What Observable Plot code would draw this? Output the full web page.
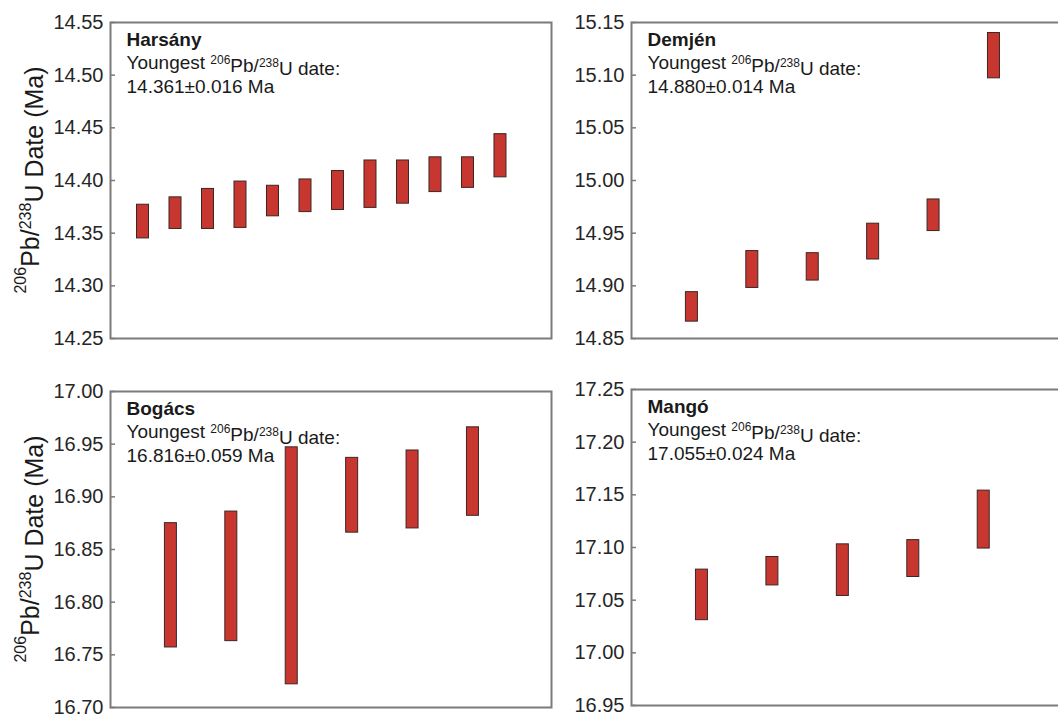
<!DOCTYPE html>
<html>
<head>
<meta charset="utf-8">
<script src="https://cdn.jsdelivr.net/npm/d3@7"></script>
<script src="https://cdn.jsdelivr.net/npm/@observablehq/plot@0.6"></script>
<style>
  html, body { margin: 0; padding: 0; background: #fff; }
  #wrap { position: relative; width: 1058px; height: 716px; overflow: hidden; background: #fff; }
  #wrap > div { position: absolute; width: 600px; }
  #wrap svg { overflow: visible; max-width: none !important; display: block; }
</style>
</head>
<body>
<div id="wrap">
  <div id="p1" style="left:0px;top:0px"></div>
  <div id="p2" style="left:521px;top:0px"></div>
  <div id="p3" style="left:0px;top:350px"></div>
  <div id="p4" style="left:521px;top:350px"></div>
</div>
<script>
// ---- data ----
const harsanyLow  = [14.345, 14.354, 14.354, 14.355, 14.366, 14.370, 14.372, 14.374, 14.378, 14.389, 14.393, 14.403];
const harsanyHigh = [14.377, 14.384, 14.392, 14.399, 14.395, 14.401, 14.409, 14.419, 14.419, 14.422, 14.422, 14.444];

const demjenLow  = [14.866, 14.898, 14.905, 14.925, 14.952, 15.097];
const demjenHigh = [14.894, 14.933, 14.931, 14.959, 14.982, 15.140];

const bogacsLow  = [16.757, 16.763, 16.722, 16.866, 16.870, 16.882];
const bogacsHigh = [16.875, 16.886, 16.947, 16.937, 16.944, 16.966];

const mangoLow  = [17.031, 17.064, 17.054, 17.072, 17.099];
const mangoHigh = [17.079, 17.091, 17.103, 17.107, 17.154];

const panelNames  = ["Harsány", "Demjén", "Bogács", "Mangó"];
const panelDates  = ["14.361±0.016 Ma", "14.880±0.014 Ma", "16.816±0.059 Ma", "17.055±0.024 Ma"];
const yDomains    = [[14.25, 14.55], [14.85, 15.15], [16.70, 17.00], [16.95, 17.25]];
const xDomains    = [[0, 13.57], [0, 7.3], [0, 7.3], [0, 6.26]];

const FONT = "'Liberation Sans', Arial, Helvetica, sans-serif";
const BAR_FILL = "#c8372f";
const BAR_STROKE = "#3a2626";
const FRAME = "#7b7b7b";

function toRows(lo, hi) {
  return lo.map((l, k) => ({i: k + 1, lo: l, hi: hi[k]}));
}

const panels = [
  {el: "#p1", rows: toRows(harsanyLow, harsanyHigh), mt: 22, mb: 12, ylabel: true},
  {el: "#p2", rows: toRows(demjenLow, demjenHigh), mt: 22, mb: 12, ylabel: false},
  {el: "#p3", rows: toRows(bogacsLow, bogacsHigh), mt: 41, mb: 8, ylabel: true},
  {el: "#p4", rows: toRows(mangoLow, mangoHigh), mt: 39, mb: 10, ylabel: false}
];

panels.forEach((p, k) => {
  const innerH = 316;
  const chart = Plot.plot({
    width: 110 + 441 + 10,
    height: p.mt + innerH + p.mb,
    marginLeft: 110,
    marginRight: 10,
    marginTop: p.mt,
    marginBottom: p.mb,
    style: {fontFamily: FONT, fontSize: "20px", background: "transparent", overflow: "visible", maxWidth: "none"},
    x: {domain: xDomains[k], axis: null},
    y: {domain: yDomains[k], ticks: 6, tickFormat: ".2f"},
    marks: [
      Plot.axisY({tickSize: -5, tickPadding: 12, stroke: FRAME, fill: "#262626", label: null, fontSize: 20, strokeWidth: 1.5}),
      Plot.rect(p.rows, {x1: "i", x2: "i", y1: "lo", y2: "hi", insetLeft: -6, insetRight: -6, fill: BAR_FILL, stroke: BAR_STROKE, strokeWidth: 1}),
      Plot.frame({stroke: FRAME, strokeWidth: 2}),
      Plot.text([panelNames[k]], {text: d => d, frameAnchor: "top-left", dx: 16, dy: 23, lineAnchor: "bottom", textAnchor: "start", fontWeight: "bold", fontSize: 19, fill: "#1a1a1a"}),
      Plot.text(["Youngest 206Pb/238U date:"], {text: d => d, frameAnchor: "top-left", dx: 16, dy: 46.5, lineAnchor: "bottom", textAnchor: "start", fontSize: 19, fill: "#1a1a1a", className: "youngest"}),
      Plot.text([panelDates[k]], {text: d => d, frameAnchor: "top-left", dx: 16, dy: 70, lineAnchor: "bottom", textAnchor: "start", fontSize: 19, fill: "#1a1a1a"})
    ]
  });

  const svg = d3.select(chart);
  // superscripts in annotation line
  svg.selectAll(".youngest text").each(function () {
    const t = d3.select(this);
    t.text(null);
    t.append("tspan").text("Youngest ");
    t.append("tspan").attr("dy", "-0.45em").attr("font-size", "12px").text("206");
    t.append("tspan").attr("dy", "0.45em").text("Pb/");
    t.append("tspan").attr("dy", "-0.45em").attr("font-size", "12px").text("238");
    t.append("tspan").attr("dy", "0.45em").text("U date:");
  });

  if (p.ylabel) {
    const cy = p.mt + innerH / 2;
    const lab = svg.append("text")
      .attr("transform", `translate(34,${cy}) rotate(-90)`)
      .attr("text-anchor", "middle")
      .attr("font-family", FONT)
      .attr("font-size", "25px")
      .attr("fill", "#1a1a1a");
    lab.append("tspan").attr("font-size", "16px").attr("dy", "-0.5em").text("206");
    lab.append("tspan").attr("dy", "0.5em").attr("font-size", "25px").text("Pb/");
    lab.append("tspan").attr("font-size", "16px").attr("dy", "-0.5em").text("238");
    lab.append("tspan").attr("dy", "0.5em").attr("font-size", "25px").text("U Date (Ma)");
  }

  document.querySelector(p.el).append(chart);
});
</script>
</body>
</html>
